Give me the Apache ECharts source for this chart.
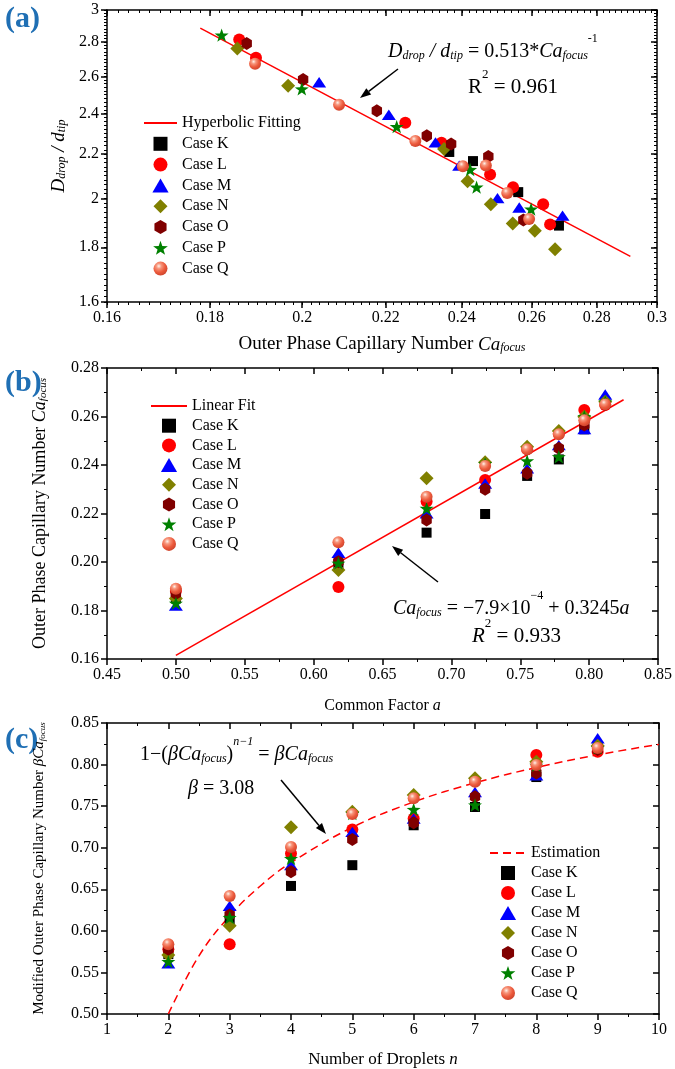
<!DOCTYPE html>
<html><head><meta charset="utf-8">
<script src="https://cdn.jsdelivr.net/npm/echarts@6/dist/echarts.min.js"></script>
<style>html,body{margin:0;padding:0;background:#fff}#c{width:675px;height:1069px}</style>
</head><body><div id="c"></div><script>
// ================= DATA =================
const caseNames = ['Case K','Case L','Case M','Case N','Case O','Case P','Case Q'];

// Panel (a): [Ca_focus, D_drop/d_tip]  (log-log)
const aK = [[0.2366,2.210],[0.2431,2.167],[0.2560,2.027],[0.2682,1.886]];
const aL = [[0.1861,2.815],[0.1897,2.707],[0.2250,2.354],[0.2345,2.254],[0.2479,2.105],[0.2545,2.048],[0.2634,1.975],[0.2655,1.891]];
const aM = [[0.2039,2.568],[0.2208,2.394],[0.2329,2.256],[0.2393,2.146],[0.2500,2.001],[0.2563,1.961],[0.2693,1.927]];
const aN = [[0.1857,2.761],[0.1968,2.549],[0.2352,2.224],[0.2416,2.075],[0.2481,1.975],[0.2544,1.895],[0.2609,1.865],[0.2670,1.792]];
const aO = [[0.1877,2.791],[0.2002,2.583],[0.2178,2.415],[0.2306,2.288],[0.2371,2.248],[0.2474,2.188],[0.2575,1.909]];
const aP = [[0.1824,2.842],[0.1999,2.531],[0.2228,2.334],[0.2423,2.128],[0.2441,2.049],[0.2598,1.954]];
const aQ = [[0.1895,2.672],[0.2086,2.446],[0.2276,2.263],[0.2403,2.143],[0.2467,2.146],[0.2528,2.023],[0.2592,1.913]];
const aFit = [[0.178,2.885],[0.291,1.765]];
const aXTicks = [0.16,0.18,0.2,0.22,0.24,0.26,0.28,0.3];
const aYTicks = [1.6,1.8,2,2.2,2.4,2.6,2.8,3];

// Panel (b): common factor a vs Ca_focus
const bA = [0.5,0.618,0.682,0.7245,0.755,0.778,0.7965,0.8117];
const bK = [0.185,0.199,0.2121,0.2198,0.2355,0.2423,0.2547,0.266];
const bL = [0.188,0.1897,0.2249,0.2338,0.2465,0.253,0.2627,0.2647];
const bM = [0.182,0.2038,0.2201,0.2324,0.2386,0.2482,0.2548,0.2691];
const bN = [0.185,0.1967,0.2345,0.2411,0.2475,0.254,0.2599,0.2661];
const bO = [0.187,0.2001,0.2173,0.2300,0.2366,0.2469,0.2565,0.2650];
const bP = [0.183,0.1995,0.2221,0.2405,0.2417,0.2434,0.2599,0.2660];
const bQ = [0.189,0.2081,0.2269,0.2396,0.2465,0.2527,0.2585,0.2650];
const bFit = [[0.5,0.1615],[0.825,0.2669]];

// Panel (c): number of droplets n vs beta*Ca_focus
const cN = [2,3,4,5,6,7,8,9];
const cK = [0.572,0.613,0.654,0.679,0.727,0.749,0.785,0.822];
const cL = [0.578,0.584,0.693,0.722,0.735,0.780,0.8115,0.8155];
const cM = [0.561,0.630,0.679,0.719,0.735,0.767,0.787,0.8316];
const cN_ = [0.571,0.606,0.7245,0.7433,0.7634,0.7835,0.8034,0.8227];
const cO = [0.578,0.619,0.671,0.710,0.730,0.7614,0.790,0.818];
const cP = [0.563,0.616,0.687,0.741,0.746,0.7514,0.799,0.820];
const cQ = [0.584,0.642,0.701,0.7405,0.7594,0.7794,0.7995,0.820];
const cEstN = [2,2.5,3,3.5,4,5,6,7,8,9,10];
const cEstY = [0.5,0.570,0.618,0.654,0.682,0.7245,0.755,0.778,0.7965,0.8117,0.8243];

// ================= STYLE =================
const F = 'Liberation Serif';
const SQ = 'path://M-10,-10 L10,-10 L10,10 L-10,10 Z';
const TRI = 'path://M0,-10 L10,7.32 L-10,7.32 Z';
const DIA = 'path://M0,-10 L10,0 L0,10 L-10,0 Z';
const HEX = 'path://M0,-10 L8.66,-5 L8.66,5 L0,10 L-8.66,5 L-8.66,-5 Z';
const STAR = 'path://M0,-10 L2.35,-3.24 L9.51,-3.09 L3.8,1.24 L5.88,8.09 L0,4 L-5.88,8.09 L-3.8,1.24 L-9.51,-3.09 L-2.35,-3.24 Z';
const sphere = {type:'radial', x:0.38, y:0.32, r:0.75, colorStops:[
  {offset:0,color:'#fff2ea'},{offset:0.25,color:'#f7967c'},{offset:0.6,color:'#ec5a3c'},{offset:1,color:'#c8402a'}]};
const styles = [
  {symbol:SQ, size:10, color:'#000000'},
  {symbol:'circle', size:12, color:'#ff0000'},
  {symbol:TRI, size:[14,12], color:'#0000ff'},
  {symbol:DIA, size:14, color:'#808000'},
  {symbol:HEX, size:[12,13], color:'#800000'},
  {symbol:STAR, size:14, color:'#008000'},
  {symbol:'circle', size:12, color:sphere}
];

function rich(size){
  const lh = Math.round(size*1.45), ss = Math.round(size*0.62);
  return {
    m:{fontFamily:F, fontSize:size, lineHeight:lh, verticalAlign:'bottom', color:'#000'},
    i:{fontFamily:F, fontSize:size, fontStyle:'italic', lineHeight:lh, verticalAlign:'bottom', color:'#000'},
    sub:{fontFamily:F, fontSize:ss, fontStyle:'italic', lineHeight:ss+1, verticalAlign:'bottom', color:'#000'},
    sup:{fontFamily:F, fontSize:ss, lineHeight:ss+1, verticalAlign:'top', color:'#000'},
    supi:{fontFamily:F, fontSize:ss, fontStyle:'italic', lineHeight:ss+1, verticalAlign:'top', color:'#000'}
  };
}

const grids = [
  {left:107, top:10, width:550, height:292},
  {left:107, top:368, width:552, height:291},
  {left:107, top:723, width:552, height:291}
];

const lineS = {color:'#000', width:1.5};
const lblS = {color:'#000', fontFamily:F, fontSize:16};

function minorList(lo, hi, step){ const r=[]; const n=Math.round((hi-lo)/step); for(let k=0;k<=n;k++) r.push(+(lo+k*step).toFixed(4)); return r; }
const aXMinor = minorList(0.16,0.30,0.002);
const aYMinor = minorList(1.6,3.0,0.02);

function logAxes(g, isX, ticks, minor, min, max, fmt, name, nameGap){
  const posMain = isX ? 'bottom':'left', posMir = isX ? 'top':'right';
  const base = {gridIndex:g, type:'log', logBase:10, min:min, max:max, splitLine:{show:false}};
  return [
    Object.assign({}, base, {position:posMain, axisLine:{show:true, lineStyle:lineS},
      axisTick:{show:true, customValues:ticks, length:6, inside:false, lineStyle:lineS},
      axisLabel:Object.assign({customValues:ticks, formatter:fmt, margin:8}, lblS),
      name:name.text, nameLocation:'middle', nameGap:nameGap, nameTextStyle:{rich:name.rich}}),
    Object.assign({}, base, {position:posMain, axisLine:{show:false},
      axisTick:{show:true, customValues:minor, length:3, inside:false, lineStyle:{color:'#000',width:1}},
      axisLabel:{show:false}}),
    Object.assign({}, base, {position:posMir, axisLine:{show:true, lineStyle:lineS},
      axisTick:{show:true, customValues:ticks, length:6, inside:true, lineStyle:lineS},
      axisLabel:{show:false}}),
    Object.assign({}, base, {position:posMir, axisLine:{show:false},
      axisTick:{show:true, customValues:minor, length:3, inside:true, lineStyle:{color:'#000',width:1}},
      axisLabel:{show:false}})
  ];
}
function valAxes(g, isX, min, max, interval, fmt, name, nameGap){
  const posMain = isX ? 'bottom':'left', posMir = isX ? 'top':'right';
  const base = {gridIndex:g, type:'value', min:min, max:max, interval:interval, splitLine:{show:false},
    minorTick:{show:true, splitNumber:2, length:3, lineStyle:{color:'#000', width:1}}, minorSplitLine:{show:false}};
  return [
    Object.assign({}, base, {position:posMain, axisLine:{show:true, onZero:false, lineStyle:lineS},
      axisTick:{show:true, length:6, inside:false, lineStyle:lineS},
      axisLabel:Object.assign({formatter:fmt, margin:8, showMinLabel:true, showMaxLabel:true}, lblS),
      name:name.text, nameLocation:'middle', nameGap:nameGap, nameTextStyle:{rich:name.rich}}),
    Object.assign({}, base, {position:posMir, axisLine:{show:true, onZero:false, lineStyle:lineS},
      axisTick:{show:true, length:6, inside:true, lineStyle:lineS},
      axisLabel:{show:false}})
  ];
}
const fmt2 = v => String(Math.round(v*100)/100);
const fmtF2 = v => (+v).toFixed(2);
const fmtI = v => String(Math.round(v));

const xAxis = [].concat(
  logAxes(0, true, aXTicks, aXMinor, 0.16, 0.3, fmt2,
    {text:'{m|Outer Phase Capillary Number }{i|Ca}{sub|focus}', rich:rich(19)}, 24),
  valAxes(1, true, 0.45, 0.85, 0.05, fmtF2, {text:'{m|Common Factor }{i|a}', rich:rich(16)}, 32),
  valAxes(2, true, 1, 10, 1, fmtI, {text:'{m|Number of Droplets }{i|n}', rich:rich(17)}, 29)
);
const yAxis = [].concat(
  logAxes(0, false, aYTicks, aYMinor, 1.6, 3, fmt2,
    {text:'{i|D}{sub|drop}{i| / d}{sub|tip}', rich:rich(19)}, 38),
  valAxes(1, false, 0.16, 0.28, 0.02, fmtF2,
    {text:'{m|Outer Phase Capillary Number }{i|Ca}{sub|focus}', rich:rich(18)}, 58),
  valAxes(2, false, 0.5, 0.85, 0.05, fmtF2,
    {text:'{m|Modified Outer Phase Capillary Number }{i|βCa}{sub|focus}', rich:rich(15)}, 60)
);

// ================= SERIES =================
const series = [];
function addScatter(data, idx, xi, yi){
  const s = styles[idx];
  series.push({type:'scatter', name:caseNames[idx], xAxisIndex:xi, yAxisIndex:yi, data:data,
    symbol:s.symbol, symbolSize:s.size, symbolKeepAspect:true, itemStyle:{color:s.color, opacity:1}, z:3});
}
const noSym = {color:'rgba(255,0,0,0)', borderWidth:0};
series.push({type:'line', name:'Hyperbolic Fitting', xAxisIndex:0, yAxisIndex:0, data:aFit,
  symbol:'none', showSymbol:false, lineStyle:{color:'#ff0000', width:1.5}, itemStyle:noSym, z:2});
[aK,aL,aM,aN,aO,aP,aQ].forEach((d,i)=>addScatter(d,i,0,0));

series.push({type:'line', name:'Linear Fit', xAxisIndex:4, yAxisIndex:4, data:bFit,
  symbol:'none', showSymbol:false, lineStyle:{color:'#ff0000', width:1.5}, itemStyle:noSym, z:2});
[bK,bL,bM,bN,bO,bP,bQ].forEach((d,i)=>addScatter(bA.map((a,j)=>[a,d[j]]),i,4,4));

series.push({type:'line', name:'Estimation', xAxisIndex:6, yAxisIndex:6,
  data:cEstN.map((n,j)=>[n,cEstY[j]]), smooth:0.4,
  symbol:'none', showSymbol:false, lineStyle:{color:'#ff0000', width:1.5, type:[8,5]}, itemStyle:noSym, z:2});
[cK,cL,cM,cN_,cO,cP,cQ].forEach((d,i)=>addScatter(cN.map((n,j)=>[n,d[j]]),i,6,6));

// ================= LEGENDS =================
function legend(first, left, top, gap, w){
  return {orient:'vertical', left:left, top:top, itemWidth:w, itemHeight:14, itemGap:gap,
    symbolKeepAspect:true,
    data:[{name:first, itemStyle:noSym}].concat(caseNames), textStyle:{color:'#000', fontFamily:F, fontSize:16},
    selectedMode:false, padding:0};
}

// ================= GRAPHICS =================
function arrow(x1,y1,x2,y2){
  const dx=x2-x1, dy=y2-y1, L=Math.hypot(dx,dy), ux=dx/L, uy=dy/L, hl=11, hw=4;
  const bx=x2-ux*hl, by=y2-uy*hl;
  return [
    {type:'line', shape:{x1:x1,y1:y1,x2:bx,y2:by}, style:{stroke:'#000', lineWidth:1.5}, silent:true},
    {type:'polygon', shape:{points:[[x2,y2],[bx-uy*hw,by+ux*hw],[bx+uy*hw,by-ux*hw]]}, style:{fill:'#000'}, silent:true}
  ];
}
function txt(x, cy, text, size){
  const lh = Math.round(size*1.45);
  return {type:'text', x:x, y:cy-lh/2, style:{text:text, rich:rich(size), fill:'#000'}, silent:true};
}
const panelLabel = (t, y) => ({type:'text', x:5, y:y, style:{text:t, fill:'#1f6fb4',
  font:'bold 30px "Liberation Serif"'}, silent:true});

const graphic = [
  panelLabel('(a)', 4), panelLabel('(b)', 368), panelLabel('(c)', 725),
  txt(388, 47, '{i|D}{sub|drop}{i| / d}{sub|tip}{m| = 0.513*}{i|Ca}{sub|focus}{sup|-1}', 20),
  txt(468, 83, '{m|R}{sup|2}{m| = 0.961}', 21),
  txt(393, 604, '{i|Ca}{sub|focus}{m| = −7.9×10}{sup|−4}{m| + 0.3245}{i|a}', 20),
  txt(472, 632, '{i|R}{sup|2}{m| = 0.933}', 21),
  txt(140, 750, '{m|1−(}{i|βCa}{sub|focus}{m|)}{supi|n−1}{m| = }{i|βCa}{sub|focus}', 20),
  txt(188, 784, '{i|β}{m| = 3.08}', 20)
].concat(arrow(398,69,360,98), arrow(438,582,392,546), arrow(281,780,326,834));

const option = {
  animation:false,
  backgroundColor:'#fff',
  grid:grids,
  xAxis:xAxis,
  yAxis:yAxis,
  legend:[
    legend('Hyperbolic Fitting', 143, 115, 4.8, 33),
    legend('Linear Fit', 150, 398, 3.7, 36),
    legend('Estimation', 489, 845, 4, 36)
  ],
  series:series,
  graphic:graphic
};
const chart = echarts.init(document.getElementById('c'), null, {renderer:'canvas'});
chart.setOption(option);
</script></body></html>
